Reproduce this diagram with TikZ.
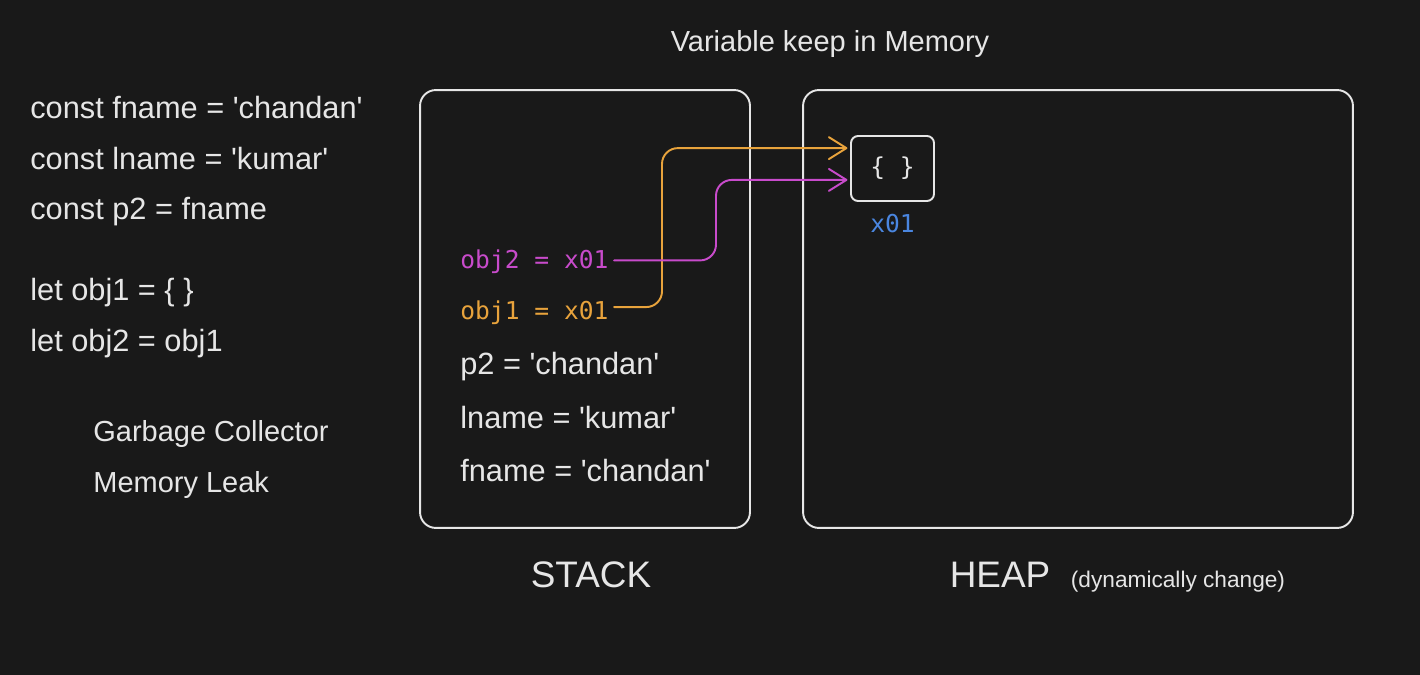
\documentclass[tikz,border=0pt]{standalone}
\usepackage{fontspec}
\setmainfont{Liberation Sans}[Ligatures=TeXOff]
\newfontfamily\codefont{DejaVu Sans Mono}
\usepackage{xcolor}
\usepackage{tikz}
\usetikzlibrary{positioning,arrows.meta}
\definecolor{canvas}{HTML}{191919}
\definecolor{chalk}{HTML}{E6E6E6}
\definecolor{objone}{HTML}{E8A33C}
\definecolor{objtwo}{HTML}{C84BCB}
\definecolor{addrblue}{HTML}{4A86E0}
\tikzset{
  srcline/.style={text=chalk, inner sep=0pt, font=\fontsize{17.5}{21}\selectfont, text height=12.6pt, text depth=3.85pt},
  noteline/.style={text=chalk, inner sep=0pt, font=\fontsize{16.5}{20}\selectfont, text height=11.9pt, text depth=3.6pt},
  codeline/.style={inner sep=0pt, font=\codefont\fontsize{14}{17}\selectfont, text height=10.1pt, text depth=3.1pt},
  membox/.style={draw=chalk, line width=1.1pt, rounded corners=9pt, minimum height=8.76cm},
  boxlabel/.style={text=chalk, inner sep=0pt, font=\fontsize{21}{25}\selectfont},
  refarrow/.style={line width=1.1pt, line cap=round, line join=round, rounded corners=9pt, shorten >=1.5pt, -{Straight Barb[length=10pt,width=12.5pt,round]}}
}
\begin{document}
\begin{tikzpicture}[x=0.02cm, y=-0.02cm]

\fill[canvas] (0,0) rectangle (1420,675);
\useasboundingbox (0,0) rectangle (1420,675);

% source code on the left
\node[srcline, anchor=west] (src1) at (30,111) {const fname = 'chandan'};
\node[srcline, below=0.42cm of src1.south west, anchor=north west] (src2) {const lname = 'kumar'};
\node[srcline, below=0.42cm of src2.south west, anchor=north west] (src3) {const p2 = fname};
\node[srcline, below=1.02cm of src3.south west, anchor=north west] (src4) {let obj1 = \{ \}};
\node[srcline, below=0.42cm of src4.south west, anchor=north west] (src5) {let obj2 = obj1};

\node[noteline, anchor=west] (gc) at (93,434) {Garbage Collector};
\node[noteline, below=0.46cm of gc.south west, anchor=north west] (leak) {Memory Leak};

\node[noteline] (title) at (830,44) {Variable keep in Memory};

% memory boxes
\node[membox, minimum width=6.6cm] (stackbox) at (585,309) {};
\node[membox, minimum width=11cm] (heapbox) at (1078,309) {};

\node[boxlabel] (stacklbl) at (591,575) {STACK};
\node[boxlabel] (heaplbl) at (1000,575) {HEAP};
\node[text=chalk, inner sep=0pt, font=\fontsize{12.9}{15}\selectfont, base right=0.4cm of heaplbl] (heapnote) {(dynamically change)};

% stack entries, bottom up
\node[srcline, anchor=west] (fname) at (460,474) {fname = 'chandan'};
\node[srcline, above=0.48cm of fname.north west, anchor=south west] (lname) {lname = 'kumar'};
\node[srcline, above=0.48cm of lname.north west, anchor=south west] (p2) {p2 = 'chandan'};
\node[codeline, text=objone, above=0.54cm of p2.north west, anchor=south west] (obj1) {obj1 = x01};
\node[codeline, text=objtwo, above=0.54cm of obj1.north west, anchor=south west] (obj2) {obj2 = x01};

% object on the heap
\node[draw=chalk, line width=1.1pt, rounded corners=4pt, minimum width=1.66cm, minimum height=1.3cm, text=chalk, font=\codefont\fontsize{14}{17}\selectfont] (heapobj) at (892.5,168.5) {\{ \}};
\node[codeline, text=addrblue, below=0.25cm of heapobj] (addr) {x01};

% references
\coordinate (onebend) at (662,0);
\coordinate (twobend) at (716,0);
\coordinate (oneout) at ([xshift=3pt,yshift=3.4pt]obj1.east);
\coordinate (twoout) at ([xshift=3pt,yshift=1pt]obj2.east);
\coordinate (onein) at ([yshift=11.6pt]heapobj.west);
\coordinate (twoin) at ([yshift=-6.5pt]heapobj.west);

\draw[refarrow, objone] (oneout) -- (oneout -| onebend) |- (onein);
\draw[refarrow, objtwo] (twoout) -- (twoout -| twobend) |- (twoin);

\end{tikzpicture}
\end{document}
